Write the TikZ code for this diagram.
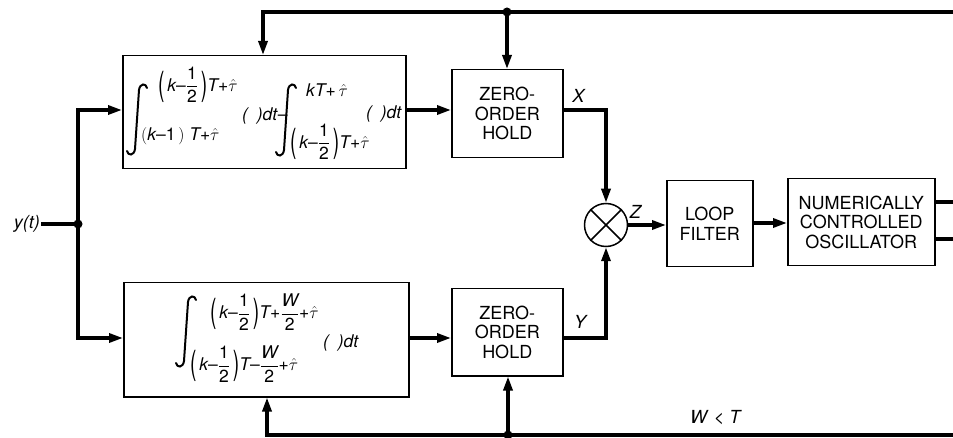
\documentclass[tikz,border=0pt]{standalone}
\usepackage{amsmath}
\usepackage{graphicx}
\usepackage{fontspec}
\setmainfont{TeX Gyre Heros}
\usetikzlibrary{arrows.meta}
\newcommand\MyIt[1]{\textit{#1}}
\newcommand\MyHalf{\dfrac{\textup{1}}{\textup{2}}}
\newcommand\MyMinus{\textup{–}}
\newcommand\MyPlus{\textup{+}}
\newcommand\MyTau{\hat{\tau}}
\newcommand\MyL{\vcenter{\hbox{\scalebox{1.1}[1.9]{\textup{(}}}}}
\newcommand\MyR{\vcenter{\hbox{\scalebox{1.1}[1.9]{\textup{)}}}}}
\newcommand\MyPar{{\MyL\,\MyIt{k}\MyMinus\MyHalf\,\MyR}}
\begin{document}
\begin{tikzpicture}[x=1pt,y=-1pt,
  blk/.style={draw, line width=1.5pt, inner sep=0pt, anchor=north west},
  wire/.style={line width=3.2pt},
  arr/.style={wire, -{Triangle[length=14pt,width=9pt]}},
  lbl/.style={font=\fontsize{18}{19.5}\selectfont, align=center, inner sep=1pt},
  mth/.style={font=\fontsize{17.5}{20}\selectfont, inner sep=0pt, anchor=west},
  intg/.style={line width=2pt, line cap=round},
  dot/.style={circle, fill, inner sep=0pt, minimum size=9pt}]
\useasboundingbox (0,0) rectangle (953,438);

% blocks
\node[blk, minimum width=283pt, minimum height=113pt] (intA) at (122,55) {};
\node[blk, minimum width=285pt, minimum height=114pt] (intB) at (123,282) {};
\node[blk, lbl, inner sep=0pt, minimum width=111pt, minimum height=88pt] (zohA) at (451,69) {ZERO-\\ORDER\\HOLD};
\node[blk, lbl, inner sep=0pt, minimum width=111pt, minimum height=87pt] (zohB) at (451,288) {ZERO-\\ORDER\\HOLD};
\node[draw, circle, line width=1.5pt, minimum size=43pt, inner sep=0pt] (mul) at (606,225) {};
\draw[line width=1.5pt] (mul.north west) -- (mul.south east) (mul.north east) -- (mul.south west);
\node[blk, lbl, inner sep=0pt, minimum width=86pt, minimum height=86pt] (lf) at (666,180) {LOOP\\FILTER};
\node[blk, lbl, inner sep=0pt, minimum width=147pt, minimum height=87pt] (nco) at (787,178) {NUMERICALLY\\CONTROLLED\\OSCILLATOR};

% integral signs
\draw[intg] (147,88) .. controls (146,83) and (140,83) .. (139,90) -- (135,149) .. controls (134,156) and (128,156) .. (127,151);
\draw[intg] (296,88) .. controls (295,83) and (289,83) .. (288,90) -- (284,150) .. controls (283,157) and (277,157) .. (276,152);
\draw[intg] (196,300) .. controls (195,295) and (189,295) .. (188,302) -- (184,361) .. controls (183,368) and (177,368) .. (176,363);

% limits, top box
\node[mth] (u1) at (158,85) {$\MyPar\MyIt{T}\MyPlus\MyTau$};
\node[mth] (l1) at (141,136) {$(\MyIt{k}\MyMinus\textup{1}\,)\;\MyIt{T}\MyPlus\MyTau$};
\node[mth] (t1) at (242,116) {\textit{(\,\,\,)dt}–};
\node[mth] (u2) at (306,90) {$\MyIt{kT}\MyPlus\,\MyTau$};
\node[mth] (l2) at (290,142) {$\MyPar\MyIt{T}\MyPlus\MyTau$};
\node[mth] (t2) at (366,114) {\textit{(\,\,\,)dt}};

% limits, bottom box
\node[mth] (u3) at (210,312) {$\MyPar\MyIt{T}\MyPlus\dfrac{\MyIt{W}}{\textup{2}}\MyPlus\MyTau$};
\node[mth] (l3) at (190,364) {$\MyPar\MyIt{T}\MyMinus\dfrac{\MyIt{W}}{\textup{2}}\MyPlus\MyTau$};
\node[mth] (t3) at (323,343) {\textit{(\,\,\,)dt}};

% input
\node[lbl, anchor=east] (yt) at (41,224) {\textit{y(t)}};
\node[dot] (d1) at (78,224) {};
\coordinate (ta) at (78,110);
\coordinate (tb) at (78,338);
\draw[wire] (yt.east) -- (d1.center);
\draw[arr] (d1.center) -- (ta) -- (intA.west |- ta);
\draw[arr] (d1.center) -- (tb) -- (intB.west |- tb);

% integrator -> hold
\draw[arr] (intA.east |- ta) -- (zohA.west |- ta);
\draw[arr] (intB.east |- tb) -- (zohB.west |- tb);

% hold -> multiplier
\coordinate (cx) at (606,110);
\coordinate (cy) at (606,338);
\draw[arr] (zohA.east |- cx) -- (cx) -- (mul.north);
\draw[arr] (zohB.east |- cy) -- (cy) -- (mul.south);
\node[lbl] (lx) at (579,96) {\textit{X}};
\node[lbl] (ly) at (581,322) {\textit{Y}};
\node[lbl] (lz) at (636,212) {\textit{Z}};

% forward path
\draw[arr] (mul.east) -- (lf.west |- mul.east);
\draw[arr] (lf.east |- 0,223) -- (nco.west |- 0,223);
\coordinate (o1) at (953,202);
\coordinate (o2) at (953,239);
\draw[wire] (nco.east |- o1) -- (o1);
\draw[wire] (nco.east |- o2) -- (o2);

% top timing rail
\coordinate (tr) at (953,12);
\coordinate (tl) at (263,12);
\node[dot] (d2) at (507,12) {};
\draw[arr] (tr) -- (tl) -- (tl |- intA.north);
\draw[arr] (d2.center) -- (d2.center |- zohA.north);

% bottom timing rail
\coordinate (br) at (953,435);
\coordinate (bl) at (267,435);
\node[dot] (d3) at (508,435) {};
\draw[arr] (br) -- (bl) -- (bl |- intB.south);
\draw[arr] (d3.center) -- (d3.center |- zohB.south);
\node[lbl] (wt) at (716,418) {\textit{W} \textless{} \textit{T}};
\end{tikzpicture}
\end{document}
